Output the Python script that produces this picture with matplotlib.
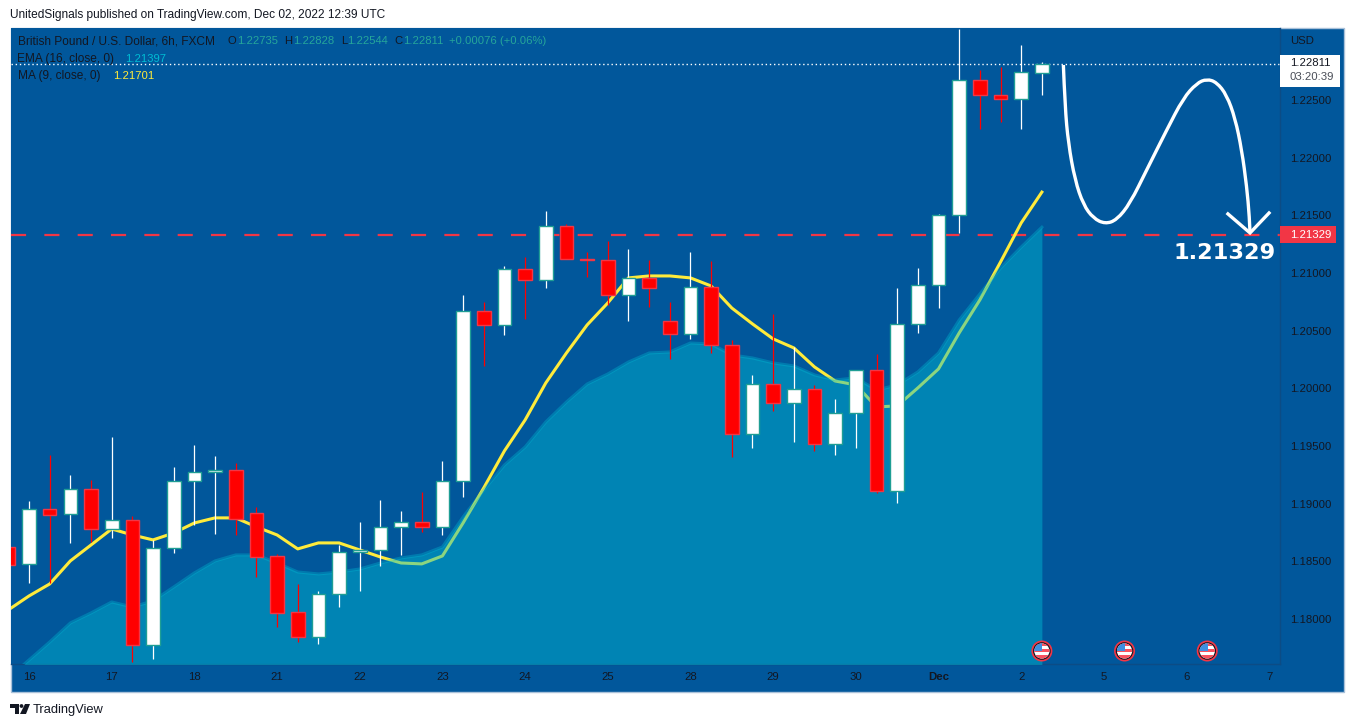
import numpy as np
import matplotlib
matplotlib.use("Agg")
import matplotlib.pyplot as plt
from matplotlib.patches import Rectangle, Circle, Polygon, PathPatch
from matplotlib.path import Path

plt.rcParams["font.family"] = ["Liberation Sans", "DejaVu Sans"]

# 6h bars, bar 0 is the first one of the 16th
opens = [1.18624, 1.18477, 1.18954, 1.18910, 1.19127, 1.18780, 1.18858, 1.17774, 1.18615, 1.19196, 1.19274, 1.19292,
         1.18919, 1.18546, 1.18060, 1.17844, 1.18217, 1.18581, 1.18598, 1.18798, 1.18841, 1.18798, 1.19196, 1.20670,
         1.20549, 1.21035, 1.20939, 1.21408, 1.21121, 1.21113, 1.20809, 1.20957, 1.20584, 1.20471, 1.20879, 1.20376,
         1.19604, 1.20037, 1.19873, 1.19994, 1.19517, 1.19786, 1.20159, 1.19110, 1.20558, 1.20896, 1.21503, 1.22673,
         1.22543, 1.22509, 1.22735]
highs = [1.18700, 1.19023, 1.19422, 1.19248, 1.19205, 1.19578, 1.18893, 1.18685, 1.19318, 1.19509, 1.19413, 1.19352,
         1.18971, 1.18563, 1.18303, 1.18243, 1.18641, 1.18841, 1.19032, 1.18936, 1.19101, 1.19370, 1.20809, 1.20749,
         1.21061, 1.21139, 1.21538, 1.21425, 1.21182, 1.21277, 1.21208, 1.21113, 1.20749, 1.21182, 1.21104, 1.20419,
         1.20116, 1.20644, 1.20358, 1.20029, 1.19907, 1.20159, 1.20298, 1.20870, 1.21043, 1.21512, 1.23116, 1.22760,
         1.22786, 1.22977, 1.22828]
lows = [1.18400, 1.18312, 1.18312, 1.18659, 1.18667, 1.18702, 1.17627, 1.17653, 1.18572, 1.18815, 1.18737, 1.18728,
        1.18364, 1.17930, 1.17800, 1.17783, 1.18104, 1.18243, 1.18459, 1.18555, 1.18754, 1.18728, 1.19058, 1.20194,
        1.20462, 1.20601, 1.20870, 1.21121, 1.20965, 1.20722, 1.20584, 1.20705, 1.20254, 1.20428, 1.20306, 1.19405,
        1.19483, 1.19803, 1.19535, 1.19457, 1.19422, 1.19483, 1.19092, 1.19006, 1.20480, 1.20696, 1.21347, 1.22249,
        1.22309, 1.22249, 1.22544]
closes = [1.18468, 1.18954, 1.18902, 1.19127, 1.18780, 1.18858, 1.17774, 1.18615, 1.19196, 1.19274, 1.19292, 1.18867,
          1.18537, 1.18052, 1.17844, 1.18217, 1.18581, 1.18598, 1.18798, 1.18841, 1.18798, 1.19196, 1.20670, 1.20549,
          1.21035, 1.20939, 1.21408, 1.21121, 1.21113, 1.20809, 1.20957, 1.20870, 1.20471, 1.20879, 1.20376, 1.19604,
          1.20037, 1.19873, 1.19994, 1.19517, 1.19786, 1.20159, 1.19110, 1.20558, 1.20896, 1.21503, 1.22673, 1.22543,
          1.22509, 1.22743, 1.22811]
ma9 = [1.18078, 1.18199, 1.18303, 1.18503, 1.18641, 1.18780, 1.18728, 1.18685, 1.18745, 1.18832, 1.18876, 1.18876,
       1.18798, 1.18728, 1.18607, 1.18659, 1.18659, 1.18598, 1.18537, 1.18485, 1.18477, 1.18546, 1.18832, 1.19136,
       1.19457, 1.19725, 1.20046, 1.20306, 1.20549, 1.20740, 1.20957, 1.20974, 1.20974, 1.20957, 1.20887, 1.20696,
       1.20558, 1.20428, 1.20350, 1.20185, 1.20063, 1.20029, 1.19838, 1.19847, 1.20003, 1.20168, 1.20480, 1.20766,
       1.21095, 1.21434, 1.21701]
ema16 = [1.17488, 1.17644, 1.17800, 1.17965, 1.18052, 1.18147, 1.18104, 1.18156, 1.18277, 1.18399, 1.18503, 1.18555,
         1.18555, 1.18485, 1.18407, 1.18390, 1.18407, 1.18433, 1.18485, 1.18529, 1.18555, 1.18624, 1.18884, 1.19118,
         1.19335, 1.19491, 1.19708, 1.19881, 1.20037, 1.20124, 1.20228, 1.20306, 1.20315, 1.20393, 1.20384, 1.20289,
         1.20263, 1.20220, 1.20194, 1.20116, 1.20072, 1.20090, 1.19985, 1.20029, 1.20142, 1.20306, 1.20592, 1.20818,
         1.21043, 1.21225, 1.21397]
bars = np.arange(-1, 50)

level = 1.21329
last_close = 1.22811
event_bars = [49, 53, 57]

day_ticks = np.arange(0, 64, 4)
day_labels = ["16", "17", "18", "21", "22", "23", "24", "25", "28", "29", "30", "Dec", "2", "5", "6", "7"]
price_ticks = [1.18, 1.185, 1.19, 1.195, 1.20, 1.205, 1.21, 1.215, 1.22, 1.225]

# the hand drawn forecast
curve_bars = [50.04, 50.12, 50.28, 50.60, 51.01, 51.49, 52.06, 52.62, 53.27, 54.07, 55.04, 55.84, 56.49, 56.98, 57.46,
              57.94, 58.35, 58.67, 58.91, 59.04, 59.07]
curve_prices = [1.22803, 1.22442, 1.22125, 1.21806, 1.21590, 1.21474, 1.21425, 1.21459, 1.21604, 1.21893, 1.22240,
                1.22515, 1.22645, 1.22682, 1.22653, 1.22543, 1.22341, 1.22066, 1.21748, 1.21488, 1.21349]
head_bars = [58.0, 59.07, 59.99]
head_prices = [1.21512, 1.21347, 1.21520]

BG = "#01579b"
DARK = "#131722"
EDGE = "#0c4c85"
W, H = 1354, 727

fig = plt.figure(figsize=(W / 100, H / 100), dpi=100, facecolor="white")

# chart pane: x 11-1280, y 28-664 in pixels
ax = fig.add_axes([11 / W, 1 - 664 / H, (1280 - 11) / W, (664 - 28) / H], facecolor=BG)
ax.set_xlim(-0.871, 60.52)
ax.set_ylim(1.17609, 1.23124)

ax.axhline(level, color="#f23645", lw=1.6, dashes=(6.8, 8.2), dash_capstyle="butt", zorder=1)
ax.axhline(last_close, color="white", lw=1, dashes=(1, 2), zorder=1.5)
ax.plot(bars, ma9, color="#ffeb3b", lw=2.2, solid_joinstyle="round", zorder=2)
ax.fill_between(bars, ema16, 1.17, color="#00bcd4", alpha=0.45, lw=0, zorder=3)
ax.plot(bars, ema16, color="#00bcd4", lw=2.2, alpha=0.35, zorder=3)

o = np.array(opens)
c = np.array(closes)
up = c >= o
wicks_up = ax.vlines(bars[up], np.array(lows)[up], np.array(highs)[up], color="white", lw=0.9, zorder=4)
wicks_dn = ax.vlines(bars[~up], np.array(lows)[~up], np.array(highs)[~up], color="#ff0000", lw=0.9, zorder=4)
wicks_up.set_snap(True)
wicks_dn.set_snap(True)
ax.bar(bars[up], (c - o)[up], bottom=o[up], width=0.66, color="white", edgecolor="#1f9e94", lw=1, zorder=5)
ax.bar(bars[~up], (o - c)[~up], bottom=c[~up], width=0.66, color="#ff0000", edgecolor="#f23645", lw=1, zorder=5)

# smooth the forecast with quadratic segments between the read points
pts = np.column_stack([curve_bars, curve_prices])
verts = [pts[0]]
codes = [Path.MOVETO]
for i in range(1, len(pts) - 1):
    end = pts[i + 1] if i == len(pts) - 2 else (pts[i] + pts[i + 1]) / 2
    verts += [pts[i], end]
    codes += [Path.CURVE3, Path.CURVE3]
ax.add_patch(PathPatch(Path(verts, codes), fc="none", ec="white", lw=2.4, capstyle="butt", zorder=6))
ax.plot(head_bars, head_prices, color="white", lw=2.4, solid_joinstyle="miter", zorder=6)

ax.yaxis.tick_right()
ax.set_yticks(price_ticks)
ax.set_yticklabels([f"{p:.5f}" for p in price_ticks])
ax.set_xticks(day_ticks)
ax.set_xticklabels(day_labels)
ax.tick_params(length=0, labelsize=8.2, labelcolor=DARK)
ax.tick_params(axis="y", pad=7)
ax.tick_params(axis="x", pad=6)
for lab in ax.get_xticklabels():
    if lab.get_text() == "Dec":
        lab.set_fontweight("bold")
for s in ["top", "left"]:
    ax.spines[s].set_visible(False)
for s in ["bottom", "right"]:
    ax.spines[s].set_color(EDGE)
    ax.spines[s].set_linewidth(1)

# page furniture, in pixel coordinates
ov = fig.add_axes([0, 0, 1, 1], facecolor="none")
ov.set_xlim(0, W)
ov.set_ylim(H, 0)
ov.axis("off")

# outer pane behind the axis strips
back = fig.add_axes([0, 0, 1, 1], facecolor="none", zorder=-1)
back.set_xlim(0, W)
back.set_ylim(H, 0)
back.axis("off")
back.add_patch(Rectangle((10.5, 27.5), 1333, 664, fc=BG, ec="#a9c1d9", lw=1))

ov.text(10, 15, "UnitedSignals published on TradingView.com, Dec 02, 2022 12:39 UTC", fontsize=8.55, color=DARK, va="center")

ov.text(18, 41.5, "British Pound / U.S. Dollar, 6h, FXCM", fontsize=8.6, color=DARK, va="center")
for x, t, col in [(228, "O", DARK), (237, "1.22735", "#26a69a"), (284, "H", DARK), (293, "1.22828", "#26a69a"),
                  (341, "L", DARK), (347, "1.22544", "#26a69a"), (394, "C", DARK), (403, "1.22811", "#26a69a"),
                  (449, "+0.00076 (+0.06%)", "#26a69a")]:
    ov.text(x, 41.5, t, fontsize=8.1, color=col, va="center")
ov.text(17, 59, "EMA (16, close, 0)", fontsize=8.6, color=DARK, va="center")
ov.text(125, 59, "1.21397", fontsize=8.1, color="#00bcd4", va="center")
ov.text(18, 76, "MA (9, close, 0)", fontsize=8.6, color=DARK, va="center")
ov.text(113, 76, "1.21701", fontsize=8.1, color="#ffeb3b", va="center")

ov.text(1290, 41, "USD", fontsize=8.2, color=DARK, va="center")
ov.add_patch(Rectangle((1280, 55), 60, 31.5, fc="white", ec="none"))
ov.text(1290, 63, "1.22811", fontsize=8.2, color=DARK, va="center")
ov.text(1290, 76.5, "03:20:39", fontsize=8.2, color="#4a4e58", va="center")
ov.add_patch(Rectangle((1280, 226), 55.5, 17, fc="#f23645", ec="none"))
ov.text(1290, 234.5, "1.21329", fontsize=8.2, color="white", va="center")

ov.text(1173, 253, "1.21329", fontsize=16.2, fontweight="bold", family="DejaVu Sans", color="white", va="center")

# economic event flags
for b in event_bars:
    px = ax.transData.transform((b, 1.2))[0]
    cy = 651
    ov.add_patch(Circle((px, cy), 10.5, fc="#f23645", ec="none", zorder=5))
    ov.add_patch(Circle((px, cy), 8.8, fc="#131722", ec="none", zorder=6))
    disc = Circle((px, cy), 7.6, fc="white", ec="none", zorder=7)
    ov.add_patch(disc)
    stripes = [Rectangle((px - 8, cy - 8), 16, 3.2, fc="#f7525f", zorder=8),
               Rectangle((px - 8, cy - 2), 16, 3, fc="#f7525f", zorder=8),
               Rectangle((px - 8, cy + 3.5), 16, 4.5, fc="#f7525f", zorder=8),
               Rectangle((px - 8, cy - 8), 8.5, 7.5, fc="#3d8fe0", zorder=9)]
    for st in stripes:
        ov.add_patch(st)
        st.set_clip_path(disc)

# TradingView logo
ov.add_patch(Polygon([(10, 704), (19, 704), (19, 714), (15, 714), (15, 708), (10, 708)], fc=DARK, ec="none"))
ov.add_patch(Circle((21.5, 706), 1.9, fc=DARK, ec="none"))
ov.add_patch(Polygon([(25, 704), (30, 704), (26, 714), (20, 714)], fc=DARK, ec="none"))
ov.text(33, 709.5, "TradingView", fontsize=9.3, color=DARK, va="center")

fig.savefig("out.png", dpi=100)
